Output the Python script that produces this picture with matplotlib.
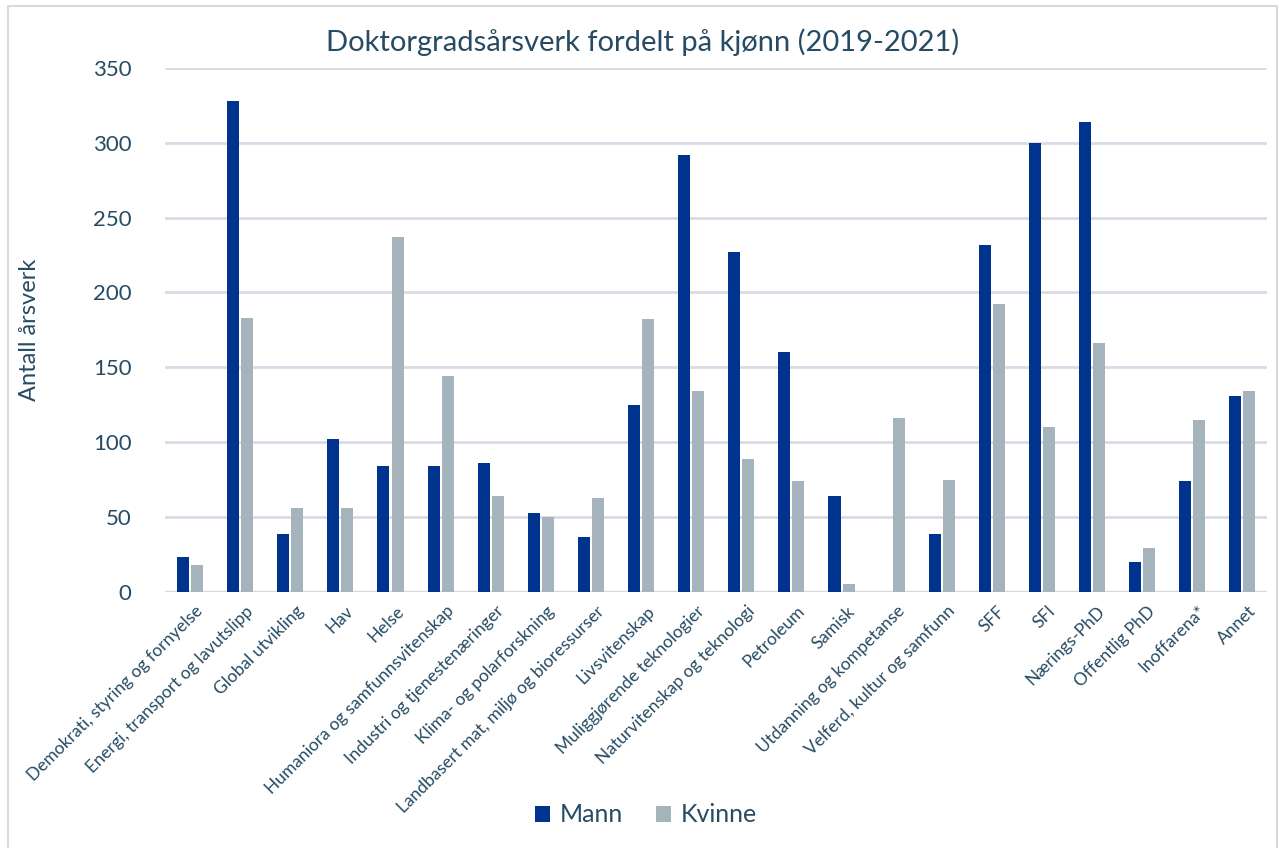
import numpy as np
import matplotlib
matplotlib.use('Agg')
import matplotlib.pyplot as plt
from matplotlib.patches import Rectangle

plt.rcParams['font.family'] = ['Lato', 'DejaVu Sans']

kategorier = ['Demokrati, styring og fornyelse', 'Energi, transport og lavutslipp',
              'Global utvikling', 'Hav', 'Helse', 'Humaniora og samfunnsvitenskap',
              'Industri og tjenestenæringer', 'Klima- og polarforskning',
              'Landbasert mat, miljø og bioressurser', 'Livsvitenskap',
              'Muliggjørende teknologier', 'Naturvitenskap og teknologi', 'Petroleum',
              'Samisk', 'Utdanning og kompetanse', 'Velferd, kultur og samfunn',
              'SFF', 'SFI', 'Nærings-PhD', 'Offentlig PhD', 'Inoffarena*', 'Annet']
mann = [23, 328, 39, 102, 84, 84, 86, 53, 37, 125, 292, 227, 160, 64, 0, 39,
        232, 300, 314, 20, 74, 131]
kvinne = [18, 183, 56, 56, 237, 144, 64, 50, 63, 182, 134, 89, 74, 5, 116, 75,
          192, 110, 166, 29, 115, 134]

tekst = '#264B63'
c_mann = '#00338D'
c_kvinne = '#A5B3BC'

fig = plt.figure(figsize=(12.79, 8.48), dpi=100)
ax = fig.add_axes([0.129, 0.302, 0.862, 0.618])

x = np.arange(len(kategorier))
ax.bar(x - 0.14, mann, width=0.24, color=c_mann, label='Mann', zorder=3)
ax.bar(x + 0.14, kvinne, width=0.24, color=c_kvinne, label='Kvinne', zorder=3)

ax.set_xlim(-0.5, len(kategorier) - 0.5)
ax.set_ylim(0, 350)
ax.set_yticks(range(0, 351, 50))
ax.yaxis.grid(True, color='#D9DBE6', linewidth=2, zorder=0)
ax.set_axisbelow(True)
for s in ax.spines.values():
    s.set_visible(False)
ax.axhline(0, color='#D9D9D9', linewidth=2.5, zorder=2)
ax.tick_params(axis='both', length=0)
ax.tick_params(axis='y', labelsize=16, labelcolor=tekst, pad=24)
ax.set_xticks(x + 0.1)
ax.set_xticklabels(kategorier, rotation=45, ha='right', rotation_mode='anchor',
                   fontsize=12.5, color=tekst)
ax.tick_params(axis='x', pad=8)

ax.set_ylabel('Antall årsverk', fontsize=17, color=tekst, labelpad=38)
fig.text(643 / 1279, 1 - 42 / 848, 'Doktorgradsårsverk fordelt på kjønn (2019-2021)',
         fontsize=21, color=tekst, ha='center', va='center')

leg = ax.legend(loc='center', bbox_to_anchor=(646 / 1279, 1 - 815 / 848),
                bbox_transform=fig.transFigure,
                ncol=2, frameon=False, fontsize=18, handlelength=0.6, handleheight=0.6,
                columnspacing=1.3, handletextpad=0.4)
for t in leg.get_texts():
    t.set_color(tekst)

# ramme rundt diagrammet
fig.patches.append(Rectangle((8 / 1279, -0.05), 1269 / 1279, 1.05 - 6 / 848,
                             transform=fig.transFigure, fill=False,
                             edgecolor='#D9D9D9', linewidth=1.5))

fig.savefig('out.png', dpi=100)
